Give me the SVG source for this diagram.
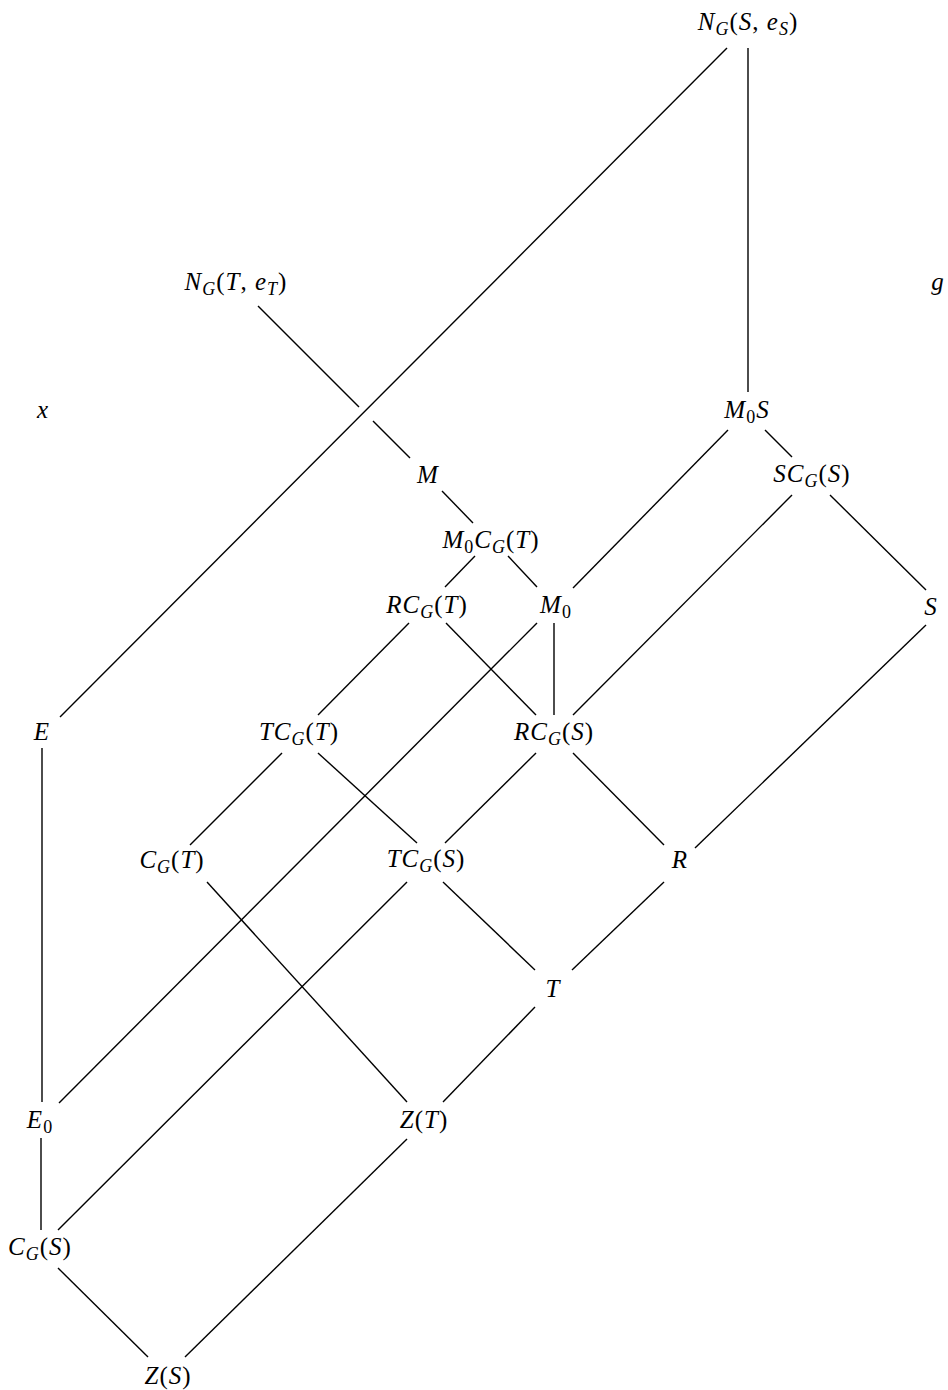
<svg xmlns="http://www.w3.org/2000/svg" width="948" height="1390" viewBox="0 0 948 1390">
<style>
.t{font-family:"Liberation Serif","Times New Roman",serif;font-size:25px;font-style:italic;fill:#000;text-anchor:middle;letter-spacing:1px}
.s{font-size:18px}
.u{font-style:normal}
.e line{stroke:#000;stroke-width:1.4;stroke-linecap:butt}
</style>
<rect width="948" height="1390" fill="#fff"/>
<g id="edges" class="e">
<line x1="727" y1="48" x2="60" y2="717"/>
<line x1="748" y1="48" x2="748" y2="392"/>
<line x1="258" y1="306" x2="359" y2="407"/>
<line x1="373" y1="421" x2="410" y2="458"/>
<line x1="442" y1="491" x2="473" y2="523"/>
<line x1="475" y1="556" x2="445" y2="587"/>
<line x1="508" y1="556" x2="537" y2="587"/>
<line x1="728" y1="430" x2="573" y2="588"/>
<line x1="765" y1="430" x2="792" y2="457"/>
<line x1="792" y1="495" x2="573" y2="715"/>
<line x1="830" y1="495" x2="926" y2="590"/>
<line x1="554" y1="623" x2="554" y2="715"/>
<line x1="537" y1="623" x2="59" y2="1103"/>
<line x1="409" y1="623" x2="318" y2="715"/>
<line x1="446" y1="623" x2="536" y2="715"/>
<line x1="926" y1="625" x2="695" y2="848"/>
<line x1="42" y1="748" x2="42" y2="1102"/>
<line x1="282" y1="753" x2="190" y2="845"/>
<line x1="318" y1="753" x2="417" y2="843"/>
<line x1="536" y1="753" x2="445" y2="843"/>
<line x1="573" y1="753" x2="664" y2="845"/>
<line x1="207" y1="882" x2="407" y2="1102"/>
<line x1="407" y1="882" x2="58" y2="1230"/>
<line x1="443" y1="882" x2="535" y2="970"/>
<line x1="664" y1="882" x2="572" y2="970"/>
<line x1="535" y1="1007" x2="443" y2="1102"/>
<line x1="41" y1="1138" x2="41" y2="1230"/>
<line x1="407" y1="1139" x2="185" y2="1357"/>
<line x1="58" y1="1268" x2="148" y2="1357"/>
</g>
<g id="NGS"><text class="t" x="748" y="30">N<tspan class="s" dy="5">G</tspan><tspan class="u" dy="-5">(</tspan>S<tspan class="u">, </tspan>e<tspan class="s" dy="5">S</tspan><tspan class="u" dy="-5">)</tspan></text></g>
<g id="NGT"><text class="t" x="236" y="290">N<tspan class="s" dy="5">G</tspan><tspan class="u" dy="-5">(</tspan>T<tspan class="u">, </tspan>e<tspan class="s" dy="5">T</tspan><tspan class="u" dy="-5">)</tspan></text></g>
<g id="g"><text class="t" x="938" y="290">g</text></g>
<g id="x"><text class="t" x="43" y="418">x</text></g>
<g id="M0S"><text class="t" x="747" y="418">M<tspan class="s u" dy="5">0</tspan><tspan dy="-5">S</tspan></text></g>
<g id="M"><text class="t" x="428" y="483">M</text></g>
<g id="SCGS"><text class="t" x="812" y="482">SC<tspan class="s" dy="5">G</tspan><tspan class="u" dy="-5">(</tspan>S<tspan class="u">)</tspan></text></g>
<g id="M0CGT"><text class="t" x="491" y="548">M<tspan class="s u" dy="5">0</tspan><tspan dy="-5">C</tspan><tspan class="s" dy="5">G</tspan><tspan class="u" dy="-5">(</tspan>T<tspan class="u">)</tspan></text></g>
<g id="RCGT"><text class="t" x="427" y="613">RC<tspan class="s" dy="5">G</tspan><tspan class="u" dy="-5">(</tspan>T<tspan class="u">)</tspan></text></g>
<g id="M0"><text class="t" x="556" y="613">M<tspan class="s u" dy="5">0</tspan></text></g>
<g id="S"><text class="t" x="931" y="615">S</text></g>
<g id="E"><text class="t" x="42" y="740">E</text></g>
<g id="TCGT"><text class="t" x="299" y="740">TC<tspan class="s" dy="5">G</tspan><tspan class="u" dy="-5">(</tspan>T<tspan class="u">)</tspan></text></g>
<g id="RCGS"><text class="t" x="554" y="740">RC<tspan class="s" dy="5">G</tspan><tspan class="u" dy="-5">(</tspan>S<tspan class="u">)</tspan></text></g>
<g id="CGT"><text class="t" x="172" y="868">C<tspan class="s" dy="5">G</tspan><tspan class="u" dy="-5">(</tspan>T<tspan class="u">)</tspan></text></g>
<g id="TCGS"><text class="t" x="426" y="867">TC<tspan class="s" dy="5">G</tspan><tspan class="u" dy="-5">(</tspan>S<tspan class="u">)</tspan></text></g>
<g id="R"><text class="t" x="680" y="868">R</text></g>
<g id="T"><text class="t" x="553" y="997">T</text></g>
<g id="E0"><text class="t" x="40" y="1128">E<tspan class="s u" dy="5">0</tspan></text></g>
<g id="ZT"><text class="t" x="424" y="1128">Z<tspan class="u">(</tspan>T<tspan class="u">)</tspan></text></g>
<g id="CGS"><text class="t" x="40" y="1255">C<tspan class="s" dy="5">G</tspan><tspan class="u" dy="-5">(</tspan>S<tspan class="u">)</tspan></text></g>
<g id="ZS"><text class="t" x="168" y="1384">Z<tspan class="u">(</tspan>S<tspan class="u">)</tspan></text></g>
</svg>
